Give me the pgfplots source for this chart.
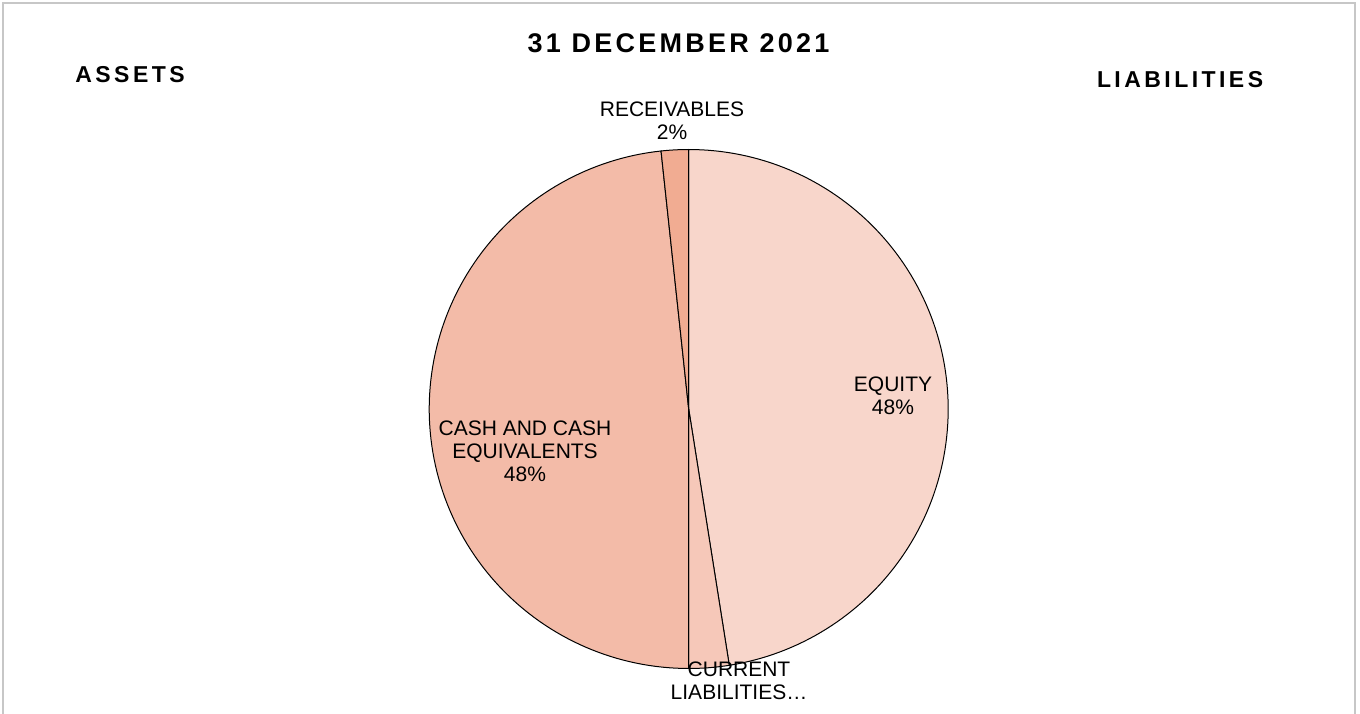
\documentclass[border=0pt]{standalone}
\usepackage{pgfplots}
\pgfplotsset{compat=1.18}
\usepackage{pgfplotstable}
\usepackage{fontspec}
\setmainfont{Liberation Sans}
\newfontfamily\spacedT[LetterSpace=12]{Liberation Sans}
\newfontfamily\spacedH[LetterSpace=15]{Liberation Sans}
\definecolor{cEquity}{RGB}{248,214,203}
\definecolor{cCL}{RGB}{246,200,185}
\definecolor{cCash}{RGB}{243,187,168}
\definecolor{cRecv}{RGB}{241,172,146}
\pgfplotstableread{
label pct
Equity 47.5
CurrentLiabilities 2.5
Cash 48.3
Receivables 1.7
}\piedata
\begin{document}%
\pgfplotstablegetelem{0}{pct}\of\piedata\let\pA\pgfplotsretval%
\pgfplotstablegetelem{1}{pct}\of\piedata\let\pB\pgfplotsretval%
\pgfplotstablegetelem{2}{pct}\of\piedata\let\pC\pgfplotsretval%
\pgfplotstablegetelem{3}{pct}\of\piedata\let\pD\pgfplotsretval%
\pgfmathsetmacro{\aS}{90}%
\pgfmathsetmacro{\aA}{\aS-3.6*\pA}%
\pgfmathsetmacro{\aB}{\aA-3.6*\pB}%
\pgfmathsetmacro{\aC}{\aB-3.6*\pC}%
\pgfmathsetmacro{\aD}{\aC-3.6*\pD}%
\begin{tikzpicture}
\useasboundingbox (0,0) rectangle (680pt,356.5pt);
\clip (0,0) rectangle (680pt,356.5pt);
\draw[color=black!22, line width=1pt] (1.5pt,-5pt) rectangle (677.5pt,355pt);
\begin{axis}[
  scale only axis, width=259.5pt, height=259.5pt,
  xmin=-1, xmax=1, ymin=-1, ymax=1,
  hide axis, clip=false,
  at={(344.35pt,152pt)}, anchor=center,
]
\addplot[draw=black, line width=0.5pt, fill=cEquity, domain=\aA:\aS, samples=120] ({cos(x)},{sin(x)}) -- (axis cs:0,0) -- cycle;
\addplot[draw=black, line width=0.5pt, fill=cCL, domain=\aB:\aA, samples=20] ({cos(x)},{sin(x)}) -- (axis cs:0,0) -- cycle;
\addplot[draw=black, line width=0.5pt, fill=cCash, domain=\aC:\aB, samples=120] ({cos(x)},{sin(x)}) -- (axis cs:0,0) -- cycle;
\addplot[draw=black, line width=0.5pt, fill=cRecv, domain=\aD:\aC, samples=20] ({cos(x)},{sin(x)}) -- (axis cs:0,0) -- cycle;
\end{axis}
\begin{scope}[every node/.style={align=center, font=\fontsize{10.5}{11.5}\selectfont, inner sep=0pt}]
\node at (336pt,296.25pt) {RECEIVABLES\\2\%};
\node at (446.5pt,158.75pt) {EQUITY\\48\%};
\node at (262.5pt,131pt) {CASH AND CASH\\EQUIVALENTS\\48\%};
\node at (369.5pt,16.25pt) {CURRENT\\LIABILITIES…};
\end{scope}
\node[inner sep=0pt, anchor=west, font=\spacedT\bfseries\fontsize{13.5}{15}\selectfont] at (263.65pt,335pt) {31 DECEMBER 2021};
\begin{scope}[every node/.style={inner sep=0pt, anchor=west, font=\spacedH\bfseries\fontsize{11.5}{13}\selectfont}]
\node at (37.5pt,319.15pt) {ASSETS};
\node at (548.3pt,316.5pt) {LIABILITIES};
\end{scope}
\end{tikzpicture}
\end{document}
